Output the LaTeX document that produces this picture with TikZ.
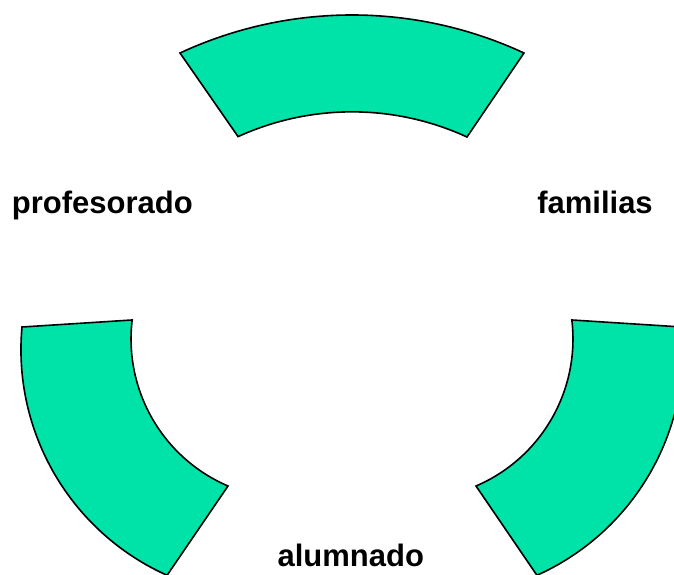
\documentclass[tikz,border=0pt]{standalone}
\usepackage{fontspec}
\setmainfont{Liberation Sans}
\definecolor{segfill}{HTML}{00E3A8}
\begin{document}
\begin{tikzpicture}[x=1pt,y=-1pt,
  segment/.style={fill=segfill,draw=black,line width=1.6pt,line join=miter},
  lbl/.style={anchor=base,inner sep=0pt,font=\fontsize{31}{37}\selectfont\bfseries}]
\useasboundingbox (0,0) rectangle (674,574);
\clip (0,0) rectangle (674,574);
% top segment
\path[segment] (180,53) arc[start angle=-114.93,end angle=-65.07,radius=408]
  -- (467,137) arc[start angle=-65.3,end angle=-114.5,radius=275] -- cycle;
% lower left segment
\path[segment] (22,327) arc[start angle=185.24,end angle=114.17,radius=247.4]
  -- (228,486) arc[start angle=113.2,end angle=186.81,radius=160] -- cycle;
% lower right segment
\path[segment] (682,327) arc[start angle=-5.24,end angle=65.83,radius=247.4]
  -- (476,486) arc[start angle=66.8,end angle=-6.81,radius=160] -- cycle;
% labels
\node[lbl] (prof) at (102.3,213) {profesorado};
\node[lbl] (fam) at (595,213) {familias};
\node[lbl] (alum) at (350.8,566.7) {alumnado};
\end{tikzpicture}
\end{document}
